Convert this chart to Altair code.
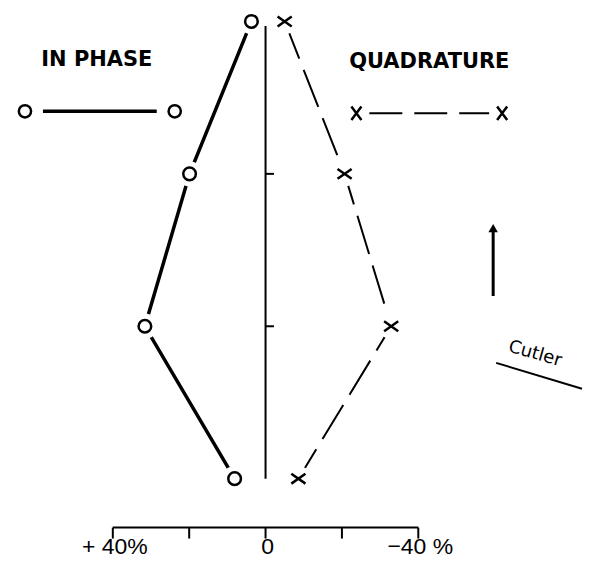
import altair as alt
import pandas as pd

# ---- data ----
levels = [0, 1, 2, 3]                       # vertical positions, top to bottom
in_phase = [3.7, 19.9, 31.6, 8.1]           # percent (+ to the left)
quadrature = [-5.0, -20.7, -32.9, -8.6]     # percent (- to the right)
scale_ticks = [40, 20, 0, -20, -40]
scale_labels = ["+ 40%", "0", "\u221240 %"]
scale_label_pos = [40, 0, -40]
axis_tick_levels = [1, 2]

W, H = 575, 546
FONT = "Liberation Sans"
HFONT = "DejaVu Sans"
DY = 0

df_in = pd.DataFrame({"level": levels, "value": in_phase})
df_q = pd.DataFrame({"level": levels, "value": quadrature})
df_all = pd.concat([df_in, df_q], ignore_index=True)

xs = alt.Scale(domain=[(258 - W) / 3.825, 258 / 3.825], reverse=True, nice=False, zero=False)
y0 = 7 + DY
ys = alt.Scale(domain=[-y0 / 152.67, (H - y0) / 152.67], reverse=True, nice=False, zero=False)

X = lambda f="value": alt.X(f"{f}:Q", scale=xs, axis=None)
Y = lambda f="level": alt.Y(f"{f}:Q", scale=ys, axis=None)
V = lambda v: alt.value(v + DY)

one = alt.Data(values=[{"a": 1}])

line_in = alt.Chart(df_in).mark_line(color="black", strokeWidth=3.5).encode(
    x=X(), y=Y(), order="level:Q")
line_q = alt.Chart(df_q).mark_line(color="black", strokeWidth=2, strokeDash=[40, 12]).encode(
    x=X(), y=Y(), order="level:Q")

halo = alt.Chart(df_all).mark_point(shape="circle", filled=True, color="white",
                                    opacity=1, size=650).encode(x=X(), y=Y())

circles = alt.Chart(df_in).mark_point(shape="circle", filled=False, fill="white",
                                      stroke="black", strokeWidth=2.5, opacity=1,
                                      size=160).encode(x=X(), y=Y())
xpath = "M-1,-0.7L1,0.7M-1,0.7L1,-0.7"
crosses = alt.Chart(df_q).mark_point(shape=xpath, filled=False, stroke="black",
                                     strokeWidth=2.5, opacity=1, size=200).encode(x=X(), y=Y())

# vertical zero axis
vaxis = alt.Chart(pd.DataFrame({"value": [0], "y1": [0.03], "y2": [3.0]})).mark_rule(
    color="black", strokeWidth=2).encode(x=X(), y=Y("y1"), y2="y2:Q")
vticks = alt.Chart(pd.DataFrame({"level": axis_tick_levels, "x0": [0, 0], "x1": [-2.2, -2.2]})).mark_rule(
    color="black", strokeWidth=2).encode(x=X("x0"), x2="x1:Q", y=Y())

# horizontal scale bar
sbar = alt.Chart(pd.DataFrame({"x0": [40], "x1": [-40]})).mark_rule(
    color="black", strokeWidth=2).encode(x=X("x0"), x2="x1:Q", y=V(514))
sticks = alt.Chart(pd.DataFrame({"value": scale_ticks})).mark_rule(
    color="black", strokeWidth=2).encode(x=X(), y=V(514), y2=V(525))
slabels = alt.Chart(pd.DataFrame({"value": scale_label_pos, "t": scale_labels})).mark_text(
    font=FONT, fontSize=23, color="black", baseline="bottom", dx=2).encode(
    x=X(), y=V(545), text="t:N")

# headings
t_in = alt.Chart(one).mark_text(text="IN PHASE", font=HFONT, fontSize=21, fontWeight="bold",
                                color="black").encode(x=alt.value(89), y=V(46))
t_q = alt.Chart(one).mark_text(text="QUADRATURE", font=HFONT, fontSize=21, fontWeight="bold",
                               color="black").encode(x=alt.value(422), y=V(48))

# legend samples
leg_in_line = alt.Chart(one).mark_rule(color="black", strokeWidth=3.5).encode(
    x=alt.value(35), x2=alt.value(149), y=V(97))
leg_in_pts = alt.Chart(pd.DataFrame({"px": [17, 167]})).mark_point(
    shape="circle", filled=False, fill="white", stroke="black", strokeWidth=2.5,
    opacity=1, size=150).encode(x=alt.X("px:Q", scale=None, axis=None), y=V(97))
leg_q_line = alt.Chart(one).mark_rule(color="black", strokeWidth=2, strokeDash=[33, 12]).encode(
    x=alt.value(362), x2=alt.value(482), y=V(99))
leg_q_pts = alt.Chart(pd.DataFrame({"px": [349, 495]})).mark_point(
    shape="M-0.75,-1L0.75,1M-0.75,1L0.75,-1", filled=False, stroke="black", strokeWidth=2.5,
    opacity=1, size=180).encode(x=alt.X("px:Q", scale=None, axis=None), y=V(99))

# arrow
arrow = alt.Chart(one).mark_rule(color="black", strokeWidth=3).encode(
    x=alt.value(486), y=V(282), y2=V(216))
arrow_head = alt.Chart(one).mark_point(shape="triangle-up", filled=True, color="black",
                                       opacity=1, size=90).encode(x=alt.value(486), y=V(214))

# Cutler
cutler = alt.Chart(one).mark_text(text="Cutler", font=HFONT, fontSize=18,
                                  angle=16, color="black").encode(x=alt.value(528), y=V(340))
underline = alt.Chart(one).mark_rule(color="black", strokeWidth=2).encode(
    x=alt.value(489), x2=alt.value(575), y=V(349), y2=V(375))

chart = alt.layer(
    line_in, line_q, halo, vaxis, vticks, circles, crosses,
    sbar, sticks, slabels, t_in, t_q,
    leg_in_line, leg_in_pts, leg_q_line, leg_q_pts,
    arrow, arrow_head, cutler, underline,
).properties(width=W, height=H, padding=0, background="white").configure_view(stroke=None)

chart.save("out.html", embed_options={"renderer": "svg", "actions": False})
